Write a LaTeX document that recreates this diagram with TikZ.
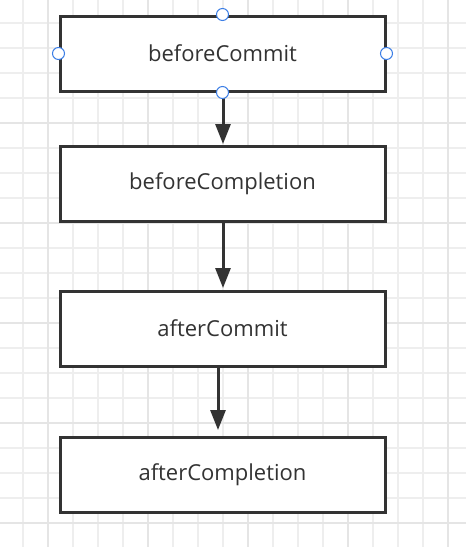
\documentclass[tikz,border=0pt]{standalone}
\usepackage{fontspec}
\setmainfont{Open Sans}
\usetikzlibrary{arrows.meta}
\definecolor{ink}{HTML}{333333}
\definecolor{gridminor}{HTML}{EEEEEE}
\definecolor{gridmajor}{HTML}{E5E5E5}
\definecolor{handle}{HTML}{3D7FE6}
\tikzset{
  stepbox/.style={draw=ink, line width=3pt, fill=white, minimum width=325pt, minimum height=75pt, inner sep=0pt, font=\fontsize{22}{26}\selectfont, text=ink},
  flow/.style={draw=ink, line width=3pt, -{Triangle[length=20pt,width=15pt]}, shorten >=1pt},
  handledot/.style={circle, draw=handle, fill=white, line width=1pt, minimum size=12pt, inner sep=0pt}
}
\begin{document}
\begin{tikzpicture}[x=1pt,y=-1pt]
\fill[white] (0,0) rectangle (466,547);
\useasboundingbox (0,0) rectangle (466,547);
\foreach \i in {0,...,18} {
  \pgfmathsetmacro{\gx}{23+25*\i}
  \draw[gridminor, line width=1.7pt] (\gx,0) -- (\gx,547);
}
\foreach \i in {0,...,21} {
  \pgfmathsetmacro{\gy}{23+25*\i}
  \draw[gridminor, line width=1.7pt] (0,\gy) -- (466,\gy);
}
\foreach \gx in {48,148,248,348,448} {
  \draw[gridmajor, line width=2pt] (\gx,0) -- (\gx,547);
}
\foreach \gy in {123,223,323,423,523} {
  \draw[gridmajor, line width=2pt] (0,\gy) -- (466,\gy);
}
\node[stepbox] (b1) at (222.5,53.5) {\raisebox{-1.5pt}{beforeCommit}};
\node[stepbox] (b2) at (222.5,183.5) {\raisebox{-1.5pt}{beforeCompletion}};
\node[stepbox] (b3) at (222.5,328.5) {\raisebox{-1.5pt}{afterCommit}};
\node[stepbox] (b4) at (222.5,474.5) {\raisebox{-1.5pt}{afterCompletion}};
\draw[flow] (223,92) -- (223,145);
\draw[flow] (b2.south -| 223,0) -- (223,289);
\draw[flow] (b3.south -| 218,0) -- (218,431);
\node[handledot] (h1) at (b1.north) {};
\node[handledot] (h2) at (b1.west) {};
\node[handledot] (h3) at (b1.east) {};
\node[handledot] (h4) at (b1.south) {};
\end{tikzpicture}
\end{document}
